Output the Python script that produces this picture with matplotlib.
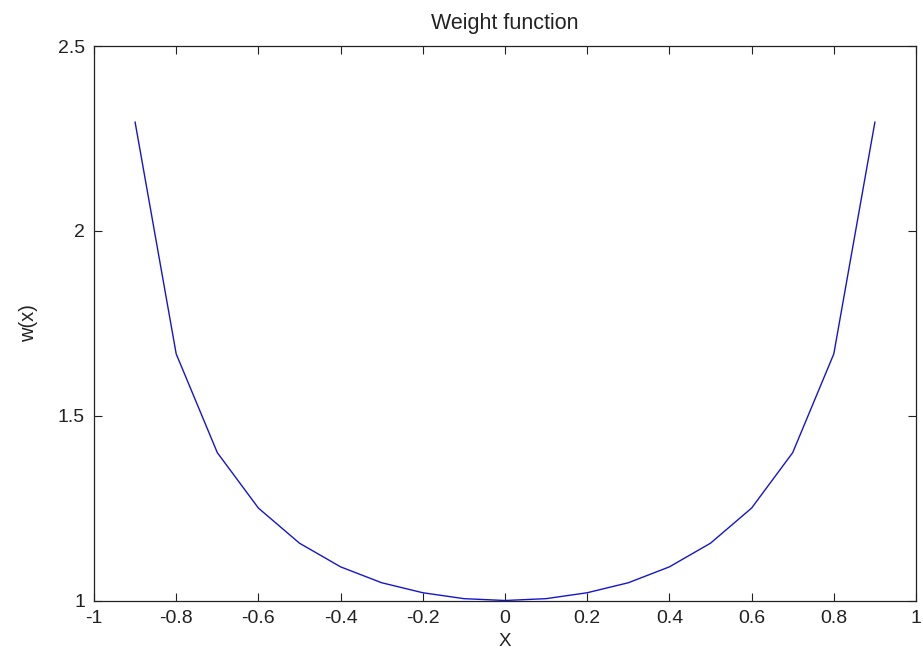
import matplotlib
matplotlib.use("Agg")
import matplotlib.pyplot as plt

x_vals = [-0.9, -0.8, -0.7, -0.6, -0.5, -0.4, -0.3, -0.2, -0.1, 0.0,
          0.1, 0.2, 0.3, 0.4, 0.5, 0.6, 0.7, 0.8, 0.9]
w_vals = [2.294, 1.667, 1.400, 1.250, 1.155, 1.091, 1.048, 1.021, 1.005, 1.000,
          1.005, 1.021, 1.048, 1.091, 1.155, 1.250, 1.400, 1.667, 2.294]
x_ticks = [-1, -0.8, -0.6, -0.4, -0.2, 0, 0.2, 0.4, 0.6, 0.8, 1]
x_tick_labels = ["-1", "-0.8", "-0.6", "-0.4", "-0.2", "0", "0.2", "0.4", "0.6", "0.8", "1"]
y_ticks = [1, 1.5, 2, 2.5]
y_tick_labels = ["1", "1.5", "2", "2.5"]

plt.rcParams['font.family'] = ['Liberation Sans', 'DejaVu Sans']

fig = plt.figure(figsize=(9.23, 6.53), dpi=100)
ax = fig.add_axes([94 / 923, (653 - 600.5) / 653, 822 / 923, 554.5 / 653])
ax.plot(x_vals, w_vals, color='#1515d0', linewidth=1.0)
ax.set_xlim(-1, 1)
ax.set_ylim(1, 2.5)
ax.set_xticks(x_ticks)
ax.set_xticklabels(x_tick_labels)
ax.set_yticks(y_ticks)
ax.set_yticklabels(y_tick_labels)
ax.tick_params(direction='in', top=True, right=True, labelsize=14, length=6, width=0.8,
               colors='#222222', labelcolor='#222222')
ax.tick_params(axis='x', pad=6.5)
ax.tick_params(axis='y', pad=6.5)
for s in ax.spines.values():
    s.set_linewidth(0.9)
    s.set_color('#222222')
ax.set_title("Weight function", fontsize=15.5, pad=12, color='#222222')
ax.set_xlabel("X", fontsize=13.5, color='#222222')
ax.set_ylabel("w(x)", fontsize=14.5, color='#222222')
ax.xaxis.set_label_coords(0.5, (600.5 - 633) / 554.5)
ax.yaxis.set_label_coords((38 - 94) / 822, 0.5)
fig.savefig("out.png", dpi=100)
